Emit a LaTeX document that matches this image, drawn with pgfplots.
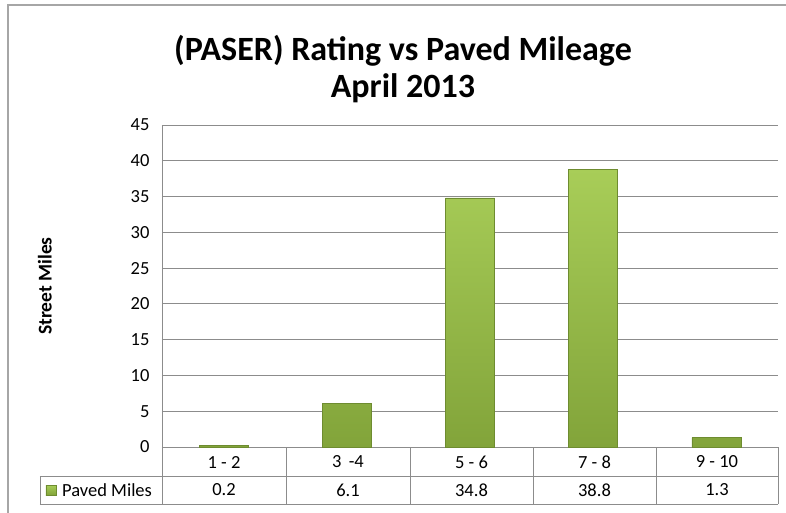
\documentclass[border=0pt]{standalone}
\usepackage{pgfplots}
\pgfplotsset{compat=1.18}
\usepackage{fontspec}
\setmainfont{Carlito}
\definecolor{barTop}{HTML}{A8CD58}
\definecolor{barBot}{HTML}{82A43A}
\definecolor{barEdge}{HTML}{6E8C30}
\definecolor{gridc}{HTML}{8C8C8C}
\definecolor{framec}{HTML}{A6A6A6}
\begin{document}
\begin{tikzpicture}[x=1pt,y=1pt]
\useasboundingbox (-162,-65) rectangle (624,447);
\begin{axis}[
  at={(0,0)}, anchor=south west,
  width=616pt, height=322pt, scale only axis,
  xmin=-0.5, xmax=4.5, ymin=0, ymax=45,
  xtick=\empty,
  ytick={0,5,...,45},
  ymajorgrids, grid style={gridc, line width=0.9pt},
  axis line style={draw=none},
  major tick length=0pt,
  /pgf/number format/assume math mode=true,
  yticklabel style={font=\fontsize{18.5}{22}\selectfont, xshift=-9pt},
  ylabel={Street Miles},
  ylabel style={at={(axis description cs:-0.19,0.5)}, anchor=center, rotate=0, font=\bfseries\fontsize{19.5}{22}\selectfont},
  clip=false,
]
\addplot[ybar, bar width=49pt, top color=barTop, bottom color=barBot, draw=barEdge, line width=0.6pt]
  coordinates {(0,0.2) (1,6.1) (2,34.8) (3,38.8) (4,1.3)};
\draw[gridc, line width=0.9pt] (rel axis cs:0,0) -- (rel axis cs:0,1);
\end{axis}
% title
\node[align=center, font=\bfseries\fontsize{34}{37}\selectfont] at (241,378) {(PASER) Rating vs Paved Mileage\\April 2013};
% outer frame
\draw[framec, line width=1.5pt] (-154,-70) -- (-154,442) -- (630,442);
% data table
\begin{scope}[gridc, line width=0.9pt]
\draw (-122,-29) -- (616,-29);
\draw (-122,-57) -- (616,-57);
\draw (-122,-29) -- (-122,-57);
\foreach \x in {0,124,248,371,494,616} \draw (\x,0) -- (\x,-57);
\end{scope}
\begin{scope}[font=\fontsize{18.5}{22}\selectfont]
\node at (62,-15) {1 - 2};
\node at (186,-15) {3 \,-4};
\node at (309.5,-15) {5 - 6};
\node at (432.5,-15) {7 - 8};
\node at (555,-15) {9 - 10};
\node at (62,-43) {0.2};
\node at (186,-43) {6.1};
\node at (309.5,-43) {34.8};
\node at (432.5,-43) {38.8};
\node at (555,-43) {1.3};
\shade[top color=barTop, bottom color=barBot, draw=barEdge, line width=0.5pt] (-116,-38) rectangle (-106,-48);
\node[anchor=west, inner sep=0pt] at (-100,-43) {Paved Miles};
\end{scope}
\end{tikzpicture}
\end{document}
